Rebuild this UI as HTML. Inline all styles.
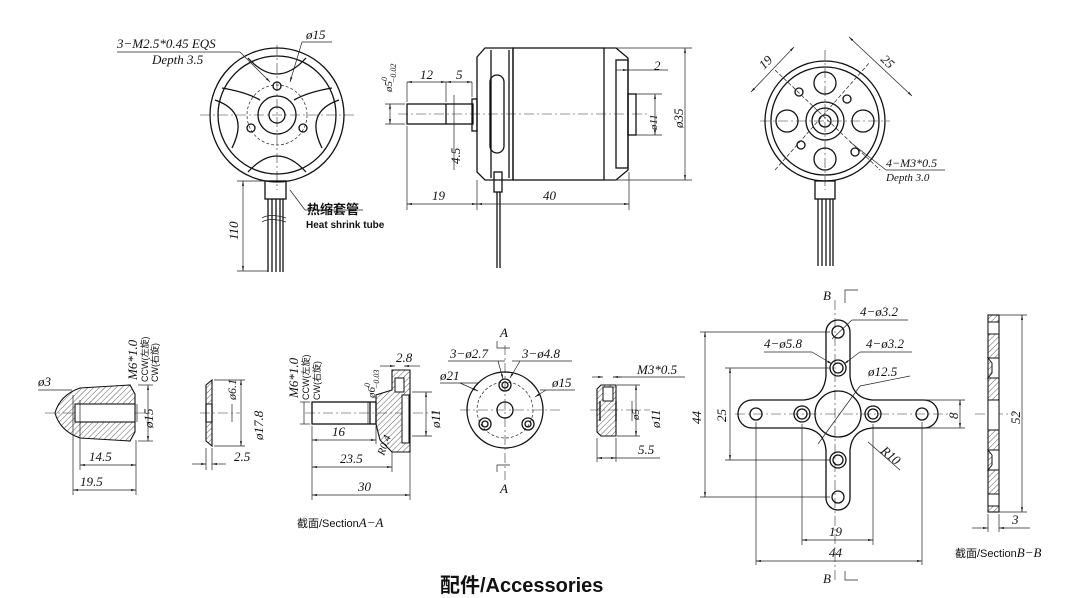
<!DOCTYPE html>
<html><head><meta charset="utf-8"><style>
html,body{margin:0;padding:0;background:#fff}
svg{display:block}
.s{fill:none;stroke:#111;stroke-width:1.3}
.d{fill:none;stroke:#222;stroke-width:0.7}
.c{fill:none;stroke:#333;stroke-width:0.6;stroke-dasharray:10 3 2 3}
.h{fill:url(#hatch);stroke:#111;stroke-width:1.1}
text{font-family:"Liberation Serif",serif;font-style:italic;font-size:13px;fill:#111}
.cn{font-family:"Liberation Sans","Noto Sans CJK SC",sans-serif;font-style:normal}
</style></head><body>
<svg width="1080" height="598" viewBox="0 0 1080 598" xmlns="http://www.w3.org/2000/svg">
<defs>
<pattern id="hatch" width="4" height="4" patternUnits="userSpaceOnUse" patternTransform="rotate(45)"><line x1="0" y1="0" x2="0" y2="4" stroke="#333" stroke-width="0.8"/></pattern>
<marker id="a" viewBox="0 0 10 10" refX="10" refY="5" markerWidth="7" markerHeight="7" orient="auto-start-reverse"><path d="M0,3L10,5L0,7z" fill="#111"/></marker>
</defs>

<!-- ===== Front view left ===== -->
<g>
<line class="c" x1="200" y1="115" x2="355" y2="115"/><line class="c" x1="277" y1="45" x2="277" y2="190"/>
<circle class="s" cx="277" cy="115" r="67"/><circle class="s" cx="277" cy="115" r="59"/>
<circle class="s" cx="277" cy="115" r="19"/><circle class="s" cx="277" cy="115" r="8" stroke-width="2.5"/>
<circle class="d" cx="277" cy="115" r="30" stroke-dasharray="3 2"/>
<circle class="s" cx="277" cy="86" r="4"/><circle class="s" cx="251" cy="128" r="4"/><circle class="s" cx="303" cy="128" r="4"/>
<path class="s" d="M248,58 Q277,90 306,58"/><path class="s" d="M248,172 Q277,140 306,172"/>
<path class="s" d="M215,100 Q250,112 232,148"/><path class="s" d="M339,100 Q304,112 322,148"/>
<path class="s" d="M222,88 Q246,92 260,100"/><path class="s" d="M332,88 Q308,92 294,100"/>
<rect class="s" x="265" y="181" width="21" height="18"/>
<path class="s" d="M268,199V272M272,199V272M276,199V272M280,199V272M283,199V272"/>
<path class="d" d="M262,218q8,-5 24,0M262,222q8,-5 24,0"/>
<line class="d" x1="237" y1="181" x2="265" y2="181"/><line class="d" x1="237" y1="271" x2="268" y2="271"/>
<line class="d" x1="243" y1="181" x2="243" y2="271" marker-start="url(#a)" marker-end="url(#a)"/>
<text transform="translate(238,240) rotate(-90)">110</text>
<line class="d" x1="117" y1="52" x2="240" y2="52"/><line class="d" x1="240" y1="52" x2="270" y2="82" marker-end="url(#a)"/>
<text x="117" y="48">3−M2.5*0.45 EQS</text><text x="152" y="64">Depth 3.5</text>
<line class="d" x1="302" y1="42" x2="332" y2="42"/><line class="d" x1="302" y1="42" x2="290" y2="82" marker-end="url(#a)"/>
<text x="306" y="39">ø15</text>
<line class="d" x1="290" y1="190" x2="305" y2="210"/><line class="d" x1="305" y1="210" x2="363" y2="210"/>
<text class="cn" x="307" y="214" style="font-size:13px;font-weight:bold">热缩套管</text>
<text class="cn" x="306" y="228" style="font-size:10px;font-weight:bold">Heat shrink tube</text>
</g>

<!-- ===== Side view ===== -->
<g>
<line class="c" x1="398" y1="114" x2="650" y2="114"/>
<rect class="s" x="407" y="104" width="66" height="20"/><line class="s" x1="446" y1="104" x2="446" y2="124"/>
<rect class="s" x="472" y="99" width="5" height="32"/>
<path class="s" d="M477,57 L485,48 H513 V180 H485 L477,172 Z"/>
<line class="s" x1="491" y1="50" x2="491" y2="178"/><line class="s" x1="509" y1="50" x2="509" y2="178"/>
<rect class="s" x="490" y="75" width="14" height="78" rx="7"/>
<rect class="s" x="513" y="48" width="91" height="132"/>
<path class="s" d="M604,48 H616 L628,58 V170 L616,180 H604"/>
<rect class="s" x="616" y="60" width="12" height="108"/>
<rect class="s" x="628" y="94" width="8" height="41"/>
<rect class="s" x="494" y="172" width="8" height="20"/><line class="s" x1="497" y1="192" x2="497" y2="268"/><line class="s" x1="500" y1="192" x2="500" y2="268"/>
<line class="d" x1="407" y1="126" x2="407" y2="210"/><line class="d" x1="477" y1="180" x2="477" y2="210"/><line class="d" x1="629" y1="172" x2="629" y2="210"/>
<line class="d" x1="407" y1="204" x2="477" y2="204" marker-start="url(#a)" marker-end="url(#a)"/><text x="432" y="200">19</text>
<line class="d" x1="477" y1="204" x2="629" y2="204" marker-start="url(#a)" marker-end="url(#a)"/><text x="543" y="200">40</text>
<line class="d" x1="407" y1="82" x2="407" y2="102"/><line class="d" x1="446" y1="82" x2="446" y2="102"/><line class="d" x1="472" y1="82" x2="472" y2="97"/>
<line class="d" x1="407" y1="82" x2="446" y2="82" marker-start="url(#a)" marker-end="url(#a)"/><text x="420" y="79">12</text>
<line class="d" x1="446" y1="82" x2="472" y2="82" marker-start="url(#a)" marker-end="url(#a)"/><text x="456" y="79">5</text>
<line class="d" x1="454" y1="95" x2="454" y2="170"/><text transform="translate(460,164) rotate(-90)">4.5</text>
<line class="d" x1="385" y1="104" x2="405" y2="104"/><line class="d" x1="385" y1="124" x2="405" y2="124"/>
<line class="d" x1="390" y1="104" x2="390" y2="124" marker-start="url(#a)" marker-end="url(#a)"/>
<text transform="translate(392,92) rotate(-90)" style="font-size:11px">ø5<tspan font-size="8" dy="-5">0</tspan><tspan font-size="8" dx="-6" dy="9">−0.02</tspan></text>
<line class="d" x1="628" y1="70" x2="668" y2="70"/><line class="d" x1="616" y1="70" x2="628" y2="70" marker-end="url(#a)"/>
<text x="654" y="70">2</text>
<line class="d" x1="636" y1="94" x2="662" y2="94"/><line class="d" x1="636" y1="135" x2="662" y2="135"/>
<line class="d" x1="655" y1="94" x2="655" y2="135" marker-start="url(#a)" marker-end="url(#a)"/><text transform="translate(657,130) rotate(-90)" style="font-size:11px">ø11</text>
<line class="d" x1="604" y1="48" x2="692" y2="48"/><line class="d" x1="604" y1="180" x2="692" y2="180"/>
<line class="d" x1="685" y1="48" x2="685" y2="180" marker-start="url(#a)" marker-end="url(#a)"/><text transform="translate(683,128) rotate(-90)">ø35</text>
</g>

<!-- ===== Rear view right ===== -->
<g>
<line class="c" x1="760" y1="121" x2="890" y2="121"/><line class="c" x1="825" y1="50" x2="825" y2="190"/>
<circle class="s" cx="825" cy="121" r="60"/><circle class="s" cx="825" cy="121" r="54"/>
<circle class="s" cx="825" cy="83" r="11"/><circle class="s" cx="825" cy="159" r="11"/><circle class="s" cx="787" cy="121" r="11"/><circle class="s" cx="863" cy="121" r="11"/>
<circle class="s" cx="799" cy="92" r="4"/><circle class="s" cx="847" cy="99" r="4"/><circle class="s" cx="801" cy="145" r="4"/><circle class="s" cx="855" cy="152" r="4"/>
<circle class="s" cx="825" cy="121" r="19" stroke-width="3"/><circle class="s" cx="825" cy="121" r="13"/><circle class="s" cx="825" cy="121" r="6"/>
<line class="d" x1="775" y1="70" x2="880" y2="170" stroke-dasharray="4 2"/><line class="d" x1="775" y1="170" x2="870" y2="62" stroke-dasharray="4 2"/>
<line class="d" x1="751" y1="92" x2="794" y2="47" marker-start="url(#a)" marker-end="url(#a)"/><text transform="translate(764,70) rotate(-45)">19</text>
<line class="d" x1="849" y1="37" x2="912" y2="96" marker-start="url(#a)" marker-end="url(#a)"/><text transform="translate(880,60) rotate(45)">25</text>
<rect class="s" x="815" y="181" width="20" height="18"/>
<path class="s" d="M818,199V266M822,199V266M826,199V266M830,199V266M833,199V266"/>
<line class="d" x1="850" y1="142" x2="886" y2="170"/><line class="d" x1="886" y1="170" x2="945" y2="170"/>
<text x="886" y="167" style="font-size:12px">4−M3*0.5</text><text x="886" y="181" style="font-size:11px">Depth 3.0</text>
</g>

<!-- ===== Spinner ===== -->
<g>
<line class="c" x1="45" y1="413" x2="150" y2="413"/>
<path class="h" d="M55,413 Q60,395 80,388 L130,385 L135,394 V432 L130,441 L80,438 Q60,431 55,413Z"/>
<rect x="75" y="404" width="60" height="18" fill="#fff" stroke="#111" stroke-width="1.1"/>
<line class="d" x1="38" y1="390" x2="72" y2="390"/><text x="38" y="386">ø3</text>
<line class="d" x1="73" y1="395" x2="73" y2="495"/><line class="d" x1="80" y1="400" x2="80" y2="470"/><line class="d" x1="136" y1="440" x2="136" y2="495"/>
<line class="d" x1="80" y1="465" x2="136" y2="465" marker-start="url(#a)" marker-end="url(#a)"/><text x="89" y="461">14.5</text>
<line class="d" x1="73" y1="490" x2="136" y2="490" marker-start="url(#a)" marker-end="url(#a)"/><text x="80" y="486">19.5</text>
<line class="d" x1="138" y1="385" x2="153" y2="385"/><line class="d" x1="138" y1="441" x2="153" y2="441"/>
<line class="d" x1="148" y1="385" x2="148" y2="441" marker-start="url(#a)" marker-end="url(#a)"/><text transform="translate(153,428) rotate(-90)">ø15</text>
<line class="d" x1="137" y1="404" x2="137" y2="422"/>
<text transform="translate(137,380) rotate(-90)">M6*1.0</text>
<text class="cn" transform="translate(148,382) rotate(-90)" style="font-size:9px">CCW(左旋)</text>
<text class="cn" transform="translate(158,382) rotate(-90)" style="font-size:9px">CW(右旋)</text>
</g>

<!-- ===== Washer ===== -->
<g>
<line class="c" x1="200" y1="413" x2="240" y2="413"/>
<path class="h" d="M206,385 L212,380 V404 H206Z"/><path class="h" d="M206,422 H212 V446 L206,441Z"/>
<path class="s" d="M206,404V422M212,404V422"/>
<line class="d" x1="214" y1="380" x2="245" y2="380"/><line class="d" x1="214" y1="446" x2="245" y2="446"/>
<line class="d" x1="232" y1="404" x2="232" y2="422"/><line class="d" x1="241" y1="380" x2="241" y2="446" marker-start="url(#a)" marker-end="url(#a)"/>
<text transform="translate(236,400) rotate(-90)" style="font-size:12px">ø6.1</text>
<text transform="translate(263,440) rotate(-90)">ø17.8</text>
<line class="d" x1="206" y1="448" x2="206" y2="470"/><line class="d" x1="212" y1="448" x2="212" y2="470"/>
<line class="d" x1="192" y1="464" x2="206" y2="464" marker-end="url(#a)"/><line class="d" x1="226" y1="464" x2="212" y2="464" marker-end="url(#a)"/><text x="234" y="461">2.5</text>
</g>

<!-- ===== Prop adapter ===== -->
<g>
<line class="c" x1="305" y1="413" x2="440" y2="413"/>
<rect class="s" x="312" y="402" width="64" height="22"/><line class="s" x1="370" y1="402" x2="370" y2="424"/>
<path class="h" d="M376,395 L392,390 V370 H410 V452 L392,452 L380,440 L376,424 Z"/>
<rect x="395" y="378" width="9" height="14" fill="#fff" stroke="#111"/>
<rect x="402" y="395" width="7" height="48" fill="#fff" stroke="#111"/>
<line class="d" x1="312" y1="426" x2="312" y2="500"/><line class="d" x1="376" y1="426" x2="376" y2="444"/><line class="d" x1="392" y1="452" x2="392" y2="472"/><line class="d" x1="410" y1="452" x2="410" y2="500"/>
<line class="d" x1="312" y1="440" x2="376" y2="440" marker-start="url(#a)" marker-end="url(#a)"/><text x="332" y="436">16</text>
<line class="d" x1="312" y1="467" x2="392" y2="467" marker-start="url(#a)" marker-end="url(#a)"/><text x="340" y="463">23.5</text>
<line class="d" x1="312" y1="495" x2="410" y2="495" marker-start="url(#a)" marker-end="url(#a)"/><text x="358" y="491">30</text>
<text transform="translate(384,456) rotate(-70)" style="font-size:11px">R0.4</text>
<line class="d" x1="300" y1="402" x2="310" y2="402"/><line class="d" x1="300" y1="424" x2="310" y2="424"/><line class="d" x1="304" y1="402" x2="304" y2="424"/>
<text transform="translate(298,398) rotate(-90)">M6*1.0</text>
<text class="cn" transform="translate(309,400) rotate(-90)" style="font-size:9px">CCW(左旋)</text>
<text class="cn" transform="translate(320,400) rotate(-90)" style="font-size:9px">CW(右旋)</text>
<line class="d" x1="368" y1="402" x2="368" y2="424"/><text transform="translate(375,398) rotate(-90)" style="font-size:11px">ø6<tspan font-size="8" dy="-5">0</tspan><tspan font-size="8" dx="-6" dy="9">−0.03</tspan></text>
<line class="d" x1="380" y1="366" x2="395" y2="366" marker-end="url(#a)"/><line class="d" x1="420" y1="366" x2="404" y2="366" marker-end="url(#a)"/><text x="396" y="362">2.8</text>
<line class="d" x1="412" y1="392" x2="432" y2="392"/><line class="d" x1="412" y1="436" x2="432" y2="436"/>
<line class="d" x1="426" y1="392" x2="426" y2="436" marker-start="url(#a)" marker-end="url(#a)"/><text transform="translate(440,428) rotate(-90)">ø11</text>
<text class="cn" x="297" y="527" style="font-size:11px">截面/Section<tspan class="" style="font-family:'Liberation Serif',serif;font-style:italic;font-size:13px">A−A</tspan></text>
</g>

<!-- ===== A-A front ===== -->
<g>
<line class="c" x1="505" y1="345" x2="505" y2="480"/><line class="c" x1="460" y1="410" x2="560" y2="410"/>
<circle class="s" cx="505" cy="410" r="38"/>
<circle class="d" cx="505" cy="410" r="28" stroke-dasharray="3 2"/>
<circle class="s" cx="505" cy="410" r="8"/>
<circle class="s" cx="505" cy="385" r="6"/><circle class="s" cx="505" cy="385" r="3"/>
<circle class="s" cx="485" cy="424" r="6"/><circle class="s" cx="485" cy="424" r="3"/>
<circle class="s" cx="528" cy="424" r="6"/><circle class="s" cx="528" cy="424" r="3"/>
<path class="d" d="M497,341V348H510M497,472V465H510"/>
<text x="500" y="337">A</text><text x="500" y="493">A</text>
<line class="d" x1="448" y1="361" x2="505" y2="361"/><line class="d" x1="498" y1="361" x2="503" y2="379" marker-end="url(#a)"/><text x="450" y="358">3−ø2.7</text>
<line class="d" x1="512" y1="361" x2="572" y2="361"/><line class="d" x1="520" y1="361" x2="510" y2="378" marker-end="url(#a)"/><text x="522" y="358">3−ø4.8</text>
<line class="d" x1="440" y1="383" x2="478" y2="383"/><line class="d" x1="460" y1="383" x2="478" y2="391" marker-end="url(#a)"/><text x="440" y="380">ø21</text>
<line class="d" x1="540" y1="390" x2="575" y2="390"/><line class="d" x1="546" y1="390" x2="535" y2="397" marker-end="url(#a)"/><text x="552" y="387">ø15</text>
</g>

<!-- ===== M3 nut ===== -->
<g>
<line class="c" x1="590" y1="410" x2="650" y2="410"/>
<path class="h" d="M597,389 L601,385 H616 V436 H601 L597,432Z"/>
<rect x="603" y="387" width="10" height="14" fill="#fff" stroke="#111"/>
<path class="s" d="M600,401V421M616,401V421"/>
<line class="d" x1="617" y1="385" x2="640" y2="385"/><line class="d" x1="617" y1="436" x2="640" y2="436"/>
<line class="d" x1="632" y1="401" x2="632" y2="421"/><line class="d" x1="636" y1="385" x2="636" y2="436" marker-start="url(#a)" marker-end="url(#a)"/>
<text transform="translate(639,420) rotate(-90)" style="font-size:11px">ø5</text><text transform="translate(660,428) rotate(-90)">ø11</text>
<line class="d" x1="592" y1="377" x2="603" y2="377" marker-end="url(#a)"/><line class="d" x1="622" y1="377" x2="613" y2="377" marker-end="url(#a)"/>
<line class="d" x1="613" y1="377" x2="685" y2="377"/><text x="637" y="374">M3*0.5</text>
<line class="d" x1="597" y1="438" x2="597" y2="462"/><line class="d" x1="616" y1="438" x2="616" y2="462"/>
<line class="d" x1="597" y1="458" x2="616" y2="458" marker-start="url(#a)" marker-end="url(#a)"/><line class="d" x1="616" y1="458" x2="660" y2="458"/><text x="638" y="454">5.5</text>
</g>

<!-- ===== Cross mount ===== -->
<g>
<line class="c" x1="835" y1="300" x2="835" y2="580"/><line class="c" x1="735" y1="414" x2="950" y2="414"/>
<path class="s" d="M826,332 A12,12 0 0 1 850,332 V376 Q852,398 872,400 H924 A14,14 0 0 1 924,428 H872 Q852,430 850,450 V498 A12,12 0 0 1 826,498 V450 Q824,430 804,428 H752 A14,14 0 0 1 752,400 H804 Q824,398 826,376 Z"/>
<circle class="s" cx="838" cy="414" r="23"/>
<circle class="s" cx="838" cy="332" r="6"/><circle class="s" cx="838" cy="497" r="6"/><circle class="s" cx="756" cy="414" r="6"/><circle class="s" cx="922" cy="414" r="6"/>
<circle class="s" cx="838" cy="368" r="8"/><circle class="s" cx="838" cy="368" r="5"/>
<circle class="s" cx="838" cy="460" r="8"/><circle class="s" cx="838" cy="460" r="5"/>
<circle class="s" cx="802" cy="414" r="8"/><circle class="s" cx="802" cy="414" r="5"/>
<circle class="s" cx="873" cy="414" r="8"/><circle class="s" cx="873" cy="414" r="5"/>
<line class="d" x1="700" y1="332" x2="830" y2="332"/><line class="d" x1="700" y1="497" x2="830" y2="497"/>
<line class="d" x1="705" y1="332" x2="705" y2="497" marker-start="url(#a)" marker-end="url(#a)"/><text transform="translate(701,424) rotate(-90)">44</text>
<line class="d" x1="725" y1="368" x2="830" y2="368"/><line class="d" x1="725" y1="460" x2="830" y2="460"/>
<line class="d" x1="730" y1="368" x2="730" y2="460" marker-start="url(#a)" marker-end="url(#a)"/><text transform="translate(726,422) rotate(-90)">25</text>
<line class="d" x1="880" y1="400" x2="965" y2="400"/><line class="d" x1="880" y1="428" x2="965" y2="428"/>
<line class="d" x1="960" y1="400" x2="960" y2="428" marker-start="url(#a)" marker-end="url(#a)"/><text transform="translate(958,419) rotate(-90)">8</text>
<line class="d" x1="802" y1="424" x2="802" y2="545"/><line class="d" x1="873" y1="424" x2="873" y2="545"/>
<line class="d" x1="802" y1="540" x2="873" y2="540" marker-start="url(#a)" marker-end="url(#a)"/><text x="829" y="536">19</text>
<line class="d" x1="756" y1="422" x2="756" y2="565"/><line class="d" x1="922" y1="422" x2="922" y2="565"/>
<line class="d" x1="756" y1="561" x2="922" y2="561" marker-start="url(#a)" marker-end="url(#a)"/><text x="829" y="557">44</text>
<line class="d" x1="818" y1="444" x2="860" y2="386"/><line class="d" x1="860" y1="386" x2="910" y2="376"/><text x="868" y="376">ø12.5</text>
<line class="d" x1="868" y1="442" x2="900" y2="470"/><text transform="translate(880,452) rotate(40)">R10</text>
<line class="d" x1="832" y1="339" x2="852" y2="320"/><line class="d" x1="852" y1="320" x2="908" y2="320"/><text x="860" y="316">4−ø3.2</text>
<line class="d" x1="764" y1="352" x2="812" y2="352"/><line class="d" x1="812" y1="352" x2="832" y2="364" marker-end="url(#a)"/><text x="764" y="348">4−ø5.8</text>
<line class="d" x1="860" y1="352" x2="912" y2="352"/><line class="d" x1="860" y1="352" x2="844" y2="364" marker-end="url(#a)"/><text x="866" y="348">4−ø3.2</text>
<path class="d" d="M845,303V290H858M845,571V580H858"/>
<text x="823" y="300">B</text><text x="823" y="583">B</text>
</g>

<!-- ===== Section B-B ===== -->
<g>
<line class="c" x1="975" y1="414" x2="1015" y2="414"/>
<rect class="h" x="988" y="315" width="11" height="197"/>
<rect x="988" y="322" width="11" height="12" fill="#fff" stroke="#111"/>
<path d="M988,358 H999 V378 H988 L992,373 V363Z" fill="#fff" stroke="#111"/>
<rect x="988" y="400" width="11" height="30" fill="#fff" stroke="#111"/>
<path d="M988,450 H999 V470 H988 L992,465 V455Z" fill="#fff" stroke="#111"/>
<rect x="988" y="494" width="11" height="12" fill="#fff" stroke="#111"/>
<line class="d" x1="999" y1="315" x2="1027" y2="315"/><line class="d" x1="999" y1="512" x2="1027" y2="512"/>
<line class="d" x1="1022" y1="315" x2="1022" y2="512" marker-start="url(#a)" marker-end="url(#a)"/><text transform="translate(1020,424) rotate(-90)">52</text>
<line class="d" x1="988" y1="514" x2="988" y2="532"/><line class="d" x1="999" y1="514" x2="999" y2="532"/>
<line class="d" x1="972" y1="528" x2="988" y2="528" marker-end="url(#a)"/><line class="d" x1="1030" y1="528" x2="999" y2="528" marker-end="url(#a)"/><text x="1012" y="524">3</text>
<text class="cn" x="955" y="557" style="font-size:11px">截面/Section<tspan style="font-family:'Liberation Serif',serif;font-style:italic;font-size:13px">B−B</tspan></text>
</g>

<text class="cn" x="440" y="592" style="font-size:20px;font-weight:bold">配件/Accessories</text>
</svg>
</body></html>
